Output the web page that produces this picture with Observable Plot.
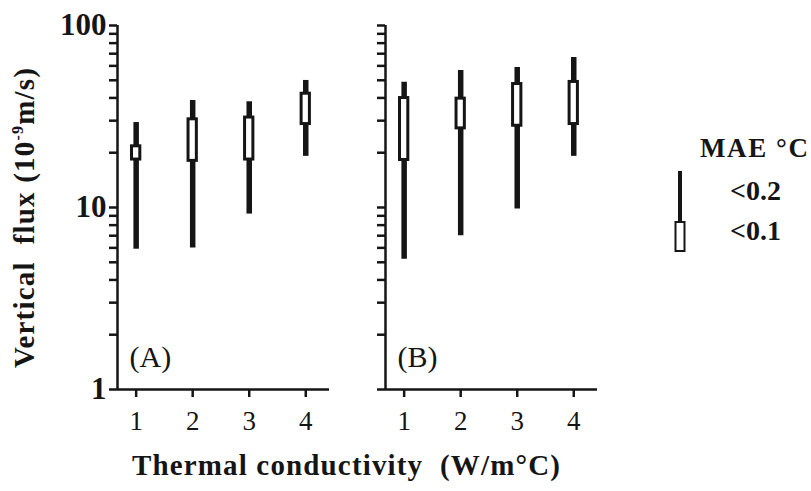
<!DOCTYPE html>
<html>
<head>
<meta charset="utf-8">
<script src="https://cdn.jsdelivr.net/npm/d3@7"></script>
<script src="https://cdn.jsdelivr.net/npm/@observablehq/plot@0.6"></script>
<style>
  body { margin: 0; background: #fff; }
  #chart { position: relative; width: 811px; height: 491px; font-family: "Liberation Serif", "Times New Roman", serif; color: #111; }
  #chart svg { position: absolute; background: transparent; overflow: visible; }
</style>
</head>
<body>
<div id="chart"></div>
<script>
// Thermal conductivity categories (W/m°C)
const conductivity = [1, 2, 3, 4];

// Panel A: vertical flux ranges (10^-9 m/s)
const aLow02  = [5.9, 6.0, 9.2, 19.1];
const aHigh02 = [29.3, 38.7, 38.1, 49.9];
const aLow01  = [18.0, 17.7, 18.0, 28.2];
const aHigh01 = [22.1, 31.1, 31.8, 43.0];

// Panel B: vertical flux ranges (10^-9 m/s)
const bLow02  = [5.2, 7.0, 9.8, 19.1];
const bHigh02 = [48.8, 56.6, 58.8, 66.7];
const bLow01  = [17.9, 26.7, 27.6, 28.2];
const bHigh01 = [40.7, 40.4, 48.6, 49.9];

// Axis ticks
const yTicks = [1, 2, 3, 4, 5, 6, 7, 8, 9, 10, 20, 30, 40, 50, 60, 70, 80, 90, 100];
const yTickLabels = [1, 10, 100];
const panelNames = ["(A)", "(B)"];
const legendTitle = "MAE °C";
const legendLabels = ["<0.2", "<0.1"];

const ink = "#151515";
const serif = "'Liberation Serif', 'Times New Roman', serif";
const xDomain = [0.67, 4.42];
const boxHalf = 0.1; // half width of the open boxes, in x units

function panel(name, lo2, hi2, lo1, hi1, withLabels, marginLeft) {
  const rows = conductivity.map((k, i) => ({k, lo2: lo2[i], hi2: hi2[i], lo1: lo1[i], hi1: hi1[i]}));
  return Plot.plot({
    width: marginLeft + 212 + 11,
    height: 440,
    marginLeft,
    marginRight: 11,
    marginTop: 25,
    marginBottom: 51,
    style: {fontFamily: serif, background: "transparent", color: ink, overflow: "visible"},
    x: {type: "linear", domain: xDomain},
    y: {type: "log", domain: [1, 100]},
    marks: [
      Plot.ruleY([1], {stroke: ink, strokeWidth: 2.5}),
      Plot.ruleX([xDomain[0]], {stroke: ink, strokeWidth: 2.5}),
      Plot.axisX({ticks: conductivity, tickSize: 8, tickPadding: 13, tickFormat: "d", fontSize: 27,
                  stroke: ink, fill: ink, strokeWidth: 2.5, label: null}),
      Plot.axisY({ticks: yTicks, tickSize: 8, tickPadding: 3,
                  tickFormat: d => (withLabels && yTickLabels.includes(d)) ? String(d) : "",
                  fontSize: 31, fontWeight: "bold", stroke: ink, fill: ink, strokeWidth: 2.5, label: null}),
      // range for MAE < 0.2
      Plot.ruleX(rows, {x: "k", y1: "lo2", y2: "hi2", stroke: ink, strokeWidth: 5.5}),
      // range for MAE < 0.1 (open box)
      Plot.rect(rows, {x1: d => d.k - boxHalf, x2: d => d.k + boxHalf, y1: "lo1", y2: "hi1",
                       fill: "white", stroke: ink, strokeWidth: 3, inset: 1.5}),
      Plot.text([name], {text: d => d, frameAnchor: "bottom-left", dx: 12, dy: -23, lineAnchor: "bottom",
                         fontSize: 30, fill: ink})
    ]
  });
}

const chart = document.getElementById("chart");

const svgA = panel(panelNames[0], aLow02, aHigh02, aLow01, aHigh01, true, 117);
svgA.style.left = "0px"; svgA.style.top = "0px";
chart.appendChild(svgA);

const svgB = panel(panelNames[1], bLow02, bHigh02, bLow01, bHigh01, false, 20);
svgB.style.left = "365px"; svgB.style.top = "0px";
chart.appendChild(svgB);

// Titles and legend
const overlay = d3.select(chart).append("svg")
  .attr("width", 811).attr("height", 491)
  .style("left", "0px").style("top", "0px")
  .style("font-family", serif).style("fill", ink);

const yTitle = overlay.append("text")
  .attr("transform", "translate(34,218) rotate(-90)")
  .attr("text-anchor", "middle")
  .attr("font-size", 29).attr("font-weight", "bold")
  .attr("fill", ink)
  .attr("textLength", 300).attr("lengthAdjust", "spacing")
  .style("white-space", "pre");
yTitle.append("tspan").text("Vertical  flux (10");
yTitle.append("tspan").attr("dy", -11).attr("font-size", 16).text("-9");
yTitle.append("tspan").attr("dy", 11).text("m/s)");

overlay.append("text")
  .attr("x", 346).attr("y", 475)
  .attr("text-anchor", "middle")
  .attr("font-size", 29).attr("font-weight", "bold")
  .attr("fill", ink)
  .attr("textLength", 428).attr("lengthAdjust", "spacing")
  .style("white-space", "pre")
  .text("Thermal conductivity  (W/m°C)");

overlay.append("text")
  .attr("x", 700).attr("y", 157)
  .attr("font-size", 27).attr("font-weight", "bold").attr("fill", ink)
  .attr("textLength", 108).attr("lengthAdjust", "spacing")
  .text(legendTitle);

legendLabels.forEach((t, i) => {
  overlay.append("text")
    .attr("x", 730).attr("y", 200 + i * 40)
    .attr("font-size", 28).attr("font-weight", "bold").attr("fill", ink)
    .text(t);
});

// legend symbols
overlay.append("line")
  .attr("x1", 680).attr("x2", 680).attr("y1", 171).attr("y2", 222)
  .attr("stroke", ink).attr("stroke-width", 4);
overlay.append("rect")
  .attr("x", 675.5).attr("y", 222).attr("width", 9).attr("height", 29)
  .attr("fill", "white").attr("stroke", ink).attr("stroke-width", 2);
</script>
</body>
</html>
